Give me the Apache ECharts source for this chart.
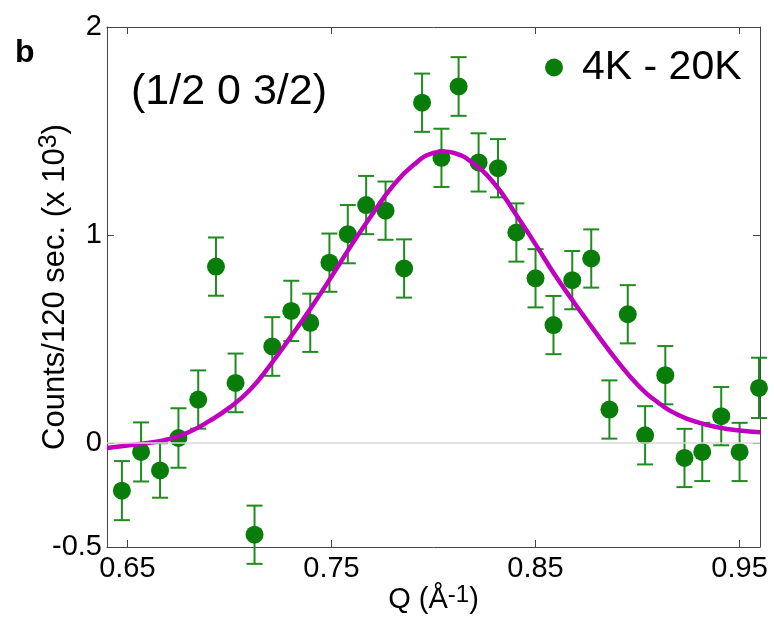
<!DOCTYPE html>
<html>
<head>
<meta charset="utf-8">
<title>(1/2 0 3/2) 4K - 20K</title>
<script src="https://cdn.jsdelivr.net/npm/echarts@6/dist/echarts.min.js"></script>
<style>
    html, body { margin: 0; padding: 0; background: #fff; }
    #chart { width: 774px; height: 617px; }
</style>
</head>
<body>
<div id="chart"></div>
<script>
// measured points, Q in 1/Angstrom, counts in units of 10^3
var qValues = [0.6473, 0.6567, 0.666, 0.675, 0.6847, 0.6934, 0.703, 0.7123, 0.721, 0.7303,
    0.7396, 0.749, 0.758, 0.767, 0.7765, 0.7856, 0.7944, 0.8039, 0.8123, 0.8221,
    0.8316, 0.8406, 0.85, 0.8588, 0.868, 0.8773, 0.8862, 0.8952, 0.9037, 0.9136,
    0.923, 0.9317, 0.941, 0.95, 0.9595];
var counts = [-0.229, -0.043, -0.132, 0.024, 0.209, 0.848, 0.289, -0.441, 0.464, 0.635,
    0.578, 0.867, 1.004, 1.144, 1.117, 0.839, 1.636, 1.371, 1.714, 1.349,
    1.321, 1.012, 0.792, 0.567, 0.783, 0.887, 0.161, 0.619, 0.037, 0.326,
    -0.072, -0.043, 0.129, -0.043, 0.265];
var errors = [0.142, 0.142, 0.131, 0.143, 0.14, 0.14, 0.141, 0.14, 0.141, 0.145,
    0.14, 0.14, 0.14, 0.14, 0.14, 0.14, 0.14, 0.14, 0.141, 0.14,
    0.14, 0.14, 0.14, 0.14, 0.14, 0.14, 0.14, 0.14, 0.14, 0.14,
    0.14, 0.14, 0.14, 0.14, 0.145];

// fit curve
var fitQ = [0.64, 0.65, 0.66, 0.67, 0.68, 0.69, 0.70, 0.71, 0.72, 0.73,
    0.74, 0.75, 0.76, 0.77, 0.78, 0.79, 0.80, 0.805, 0.81, 0.82,
    0.83, 0.84, 0.85, 0.86, 0.87, 0.88, 0.89, 0.90, 0.91, 0.92,
    0.93, 0.94, 0.95, 0.96];
var fitY = [-0.024, -0.012, 0.0, 0.018, 0.052, 0.105, 0.17, 0.255, 0.375, 0.51,
    0.65, 0.80, 0.955, 1.10, 1.235, 1.335, 1.395, 1.402, 1.395, 1.34,
    1.245, 1.105, 0.955, 0.80, 0.66, 0.525, 0.395, 0.28, 0.195, 0.135,
    0.098, 0.074, 0.06, 0.052];

var xTicks = [0.65, 0.75, 0.85, 0.95];
var yTicks = [-0.5, 0, 1, 2];

var font = 'Liberation Sans, Arial, sans-serif';
var green = '#097d09';
var barGreen = '#1f8c1f';
var frame = '#444';

var points = qValues.map(function (q, i) { return [q, counts[i]]; });
var bars = qValues.map(function (q, i) { return [q, counts[i] - errors[i], counts[i] + errors[i]]; });
var fit = fitQ.map(function (q, i) { return [q, fitY[i]]; });

var chart = echarts.init(document.getElementById('chart'));

function xAxisBase(pos, showLabel) {
    return {
        type: 'value',
        position: pos,
        min: 0.64,
        max: 0.96,
        axisLine: { show: true, onZero: false, lineStyle: { color: frame, width: 1 } },
        axisTick: { show: true, inside: true, length: 7, customValues: xTicks, lineStyle: { color: frame } },
        axisLabel: {
            show: showLabel,
            customValues: xTicks,
            margin: 7,
            fontSize: 29,
            fontFamily: font,
            color: '#000',
            formatter: function (v) { return v.toFixed(2); }
        },
        splitLine: { show: false }
    };
}
function yAxisBase(pos, showLabel) {
    return {
        type: 'value',
        position: pos,
        min: -0.5,
        max: 2,
        axisLine: { show: true, onZero: false, lineStyle: { color: frame, width: 1 } },
        axisTick: { show: true, inside: true, length: 7, customValues: yTicks, lineStyle: { color: frame } },
        axisLabel: {
            show: showLabel,
            customValues: yTicks,
            margin: 5,
            fontSize: 29,
            fontFamily: font,
            color: '#000'
        },
        splitLine: { show: false }
    };
}

var xBottom = xAxisBase('bottom', true);
xBottom.name = 'Q (Å{sup|-1})';
xBottom.nameLocation = 'middle';
xBottom.nameGap = 36;
xBottom.nameMoveOverlap = false;
xBottom.nameTextStyle = {
    fontSize: 29, fontFamily: font, color: '#000', lineHeight: 34,
    rich: { sup: { fontSize: 24, fontFamily: font, color: '#000', verticalAlign: 'top', lineHeight: 18 } }
};

var yLeft = yAxisBase('left', true);
yLeft.name = 'Counts/120 sec. (x 10{sup|3})';
yLeft.nameLocation = 'middle';
yLeft.nameRotate = 90;
yLeft.nameGap = 34;
yLeft.nameMoveOverlap = false;
yLeft.nameTextStyle = {
    fontSize: 31, fontFamily: font, color: '#000', lineHeight: 36,
    rich: { sup: { fontSize: 25, fontFamily: font, color: '#000', verticalAlign: 'top', lineHeight: 18 } }
};

var option = {
    animation: false,
    backgroundColor: '#fff',
    grid: { left: 107, right: 14, top: 27, bottom: 70, outerBoundsMode: 'none' },
    xAxis: [xBottom, xAxisBase('top', false)],
    yAxis: [yLeft, yAxisBase('right', false)],
    legend: {
        data: ['4K - 20K'],
        left: 545,
        top: 47,
        padding: 0,
        icon: 'circle',
        itemWidth: 18,
        itemHeight: 18,
        selectedMode: false,
        textStyle: { fontSize: 41, fontFamily: font, color: '#000', padding: [0, 0, 0, 14] }
    },
    graphic: [
        {
            type: 'text', left: 15, top: 37,
            style: { text: 'b', font: 'bold 32px ' + font, fill: '#000' }
        },
        {
            type: 'text', x: 131, y: 92,
            style: { text: '(1/2 0 3/2)', font: '43px ' + font, fill: '#000', verticalAlign: 'middle' }
        }
    ],
    series: [
        {
            name: 'zero',
            type: 'line',
            data: [],
            silent: true,
            markLine: {
                silent: true,
                symbol: 'none',
                label: { show: false },
                lineStyle: { color: '#d9d9d9', width: 1.5, type: 'solid' },
                data: [{ yAxis: 0 }]
            },
            z: 1
        },
        {
            name: 'err',
            type: 'custom',
            data: bars,
            encode: { x: 0, y: [1, 2] },
            renderItem: function (params, api) {
                var q = api.value(0);
                var top = api.coord([q, api.value(2)]);
                var bot = api.coord([q, api.value(1)]);
                var hw = 8;
                var st = { stroke: barGreen, lineWidth: 2 };
                return {
                    type: 'group',
                    children: [
                        { type: 'line', shape: { x1: top[0], y1: top[1], x2: bot[0], y2: bot[1] }, style: st },
                        { type: 'line', shape: { x1: top[0] - hw, y1: top[1], x2: top[0] + hw, y2: top[1] }, style: st },
                        { type: 'line', shape: { x1: bot[0] - hw, y1: bot[1], x2: bot[0] + hw, y2: bot[1] }, style: st }
                    ]
                };
            },
            z: 2
        },
        {
            name: '4K - 20K',
            type: 'scatter',
            data: points,
            symbol: 'circle',
            symbolSize: 18,
            itemStyle: { color: green, opacity: 1 },
            z: 3
        },
        {
            name: 'fit',
            type: 'line',
            data: fit,
            smooth: true,
            showSymbol: false,
            lineStyle: { color: '#bf00bf', width: 4.5 },
            z: 4
        }
    ]
};

chart.setOption(option);
</script>
</body>
</html>
